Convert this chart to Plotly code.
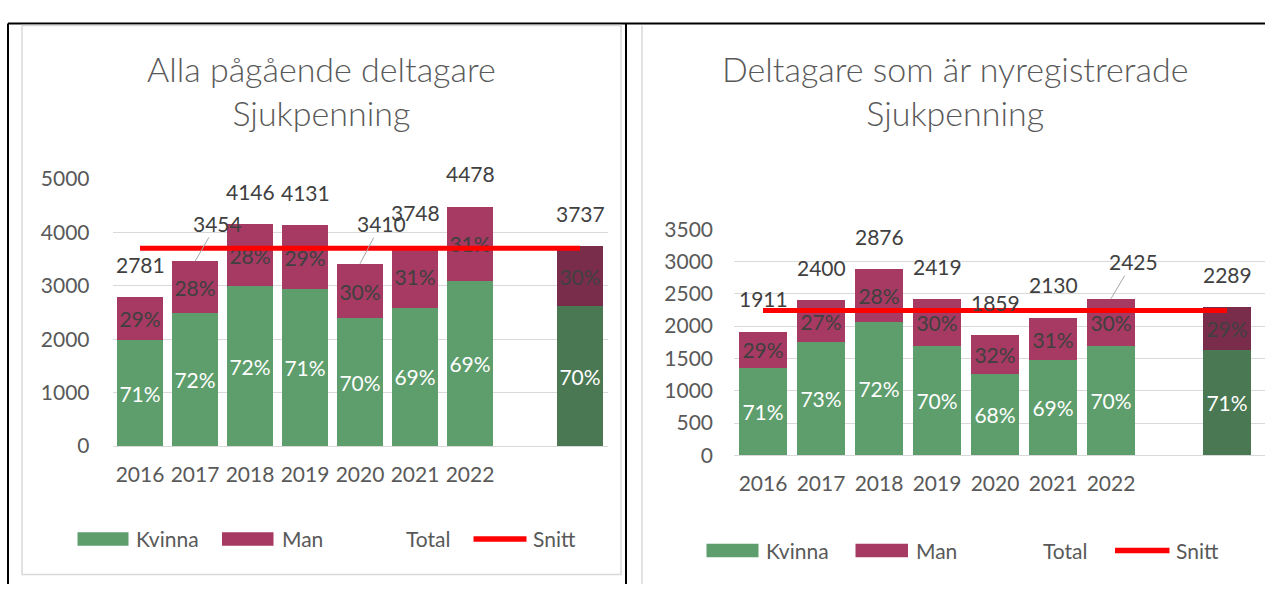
import plotly.graph_objects as go

W, H = 1265, 595

# ---------------- data ----------------
years = ["2016", "2017", "2018", "2019", "2020", "2021", "2022"]
gap_cat = " "
avg_cat = "Medel"
cats = years + [gap_cat, avg_cat]

# Left chart: Alla pågående deltagare
left_kvinna = [1975, 2487, 2985, 2933, 2387, 2586, 3090, None, 2616]
left_man = [806, 967, 1161, 1198, 1023, 1162, 1388, None, 1121]
left_total = [2781, 3454, 4146, 4131, 3410, 3748, 4478, None, 3737]
left_kv_pct = ["71%", "72%", "72%", "71%", "70%", "69%", "69%", "", "70%"]
left_man_pct = ["29%", "28%", "28%", "29%", "30%", "31%", "31%", "", "30%"]
left_snitt = 3700

# Right chart: Deltagare som är nyregistrerade
right_kvinna = [1357, 1752, 2071, 1693, 1264, 1470, 1698, None, 1625]
right_man = [554, 648, 805, 726, 595, 660, 727, None, 664]
right_total = [1911, 2400, 2876, 2419, 1859, 2130, 2425, None, 2289]
right_kv_pct = ["71%", "73%", "72%", "70%", "68%", "69%", "70%", "", "71%"]
right_man_pct = ["29%", "27%", "28%", "30%", "32%", "31%", "30%", "", "29%"]
right_snitt = 2240

left_title = "Alla pågående deltagare<br>Sjukpenning"
right_title = "Deltagare som är nyregistrerade<br>Sjukpenning"

# ---------------- style ----------------
FONT = "Lato"
TXT = "#595959"
LBL = "#404040"
GREEN, GREEN_D = "#5e9e6c", "#4a7852"
MAROON, MAROON_D = "#a63a62", "#7a2d4b"
GRID = "#d9d9d9"
FS = 21


def px(x):
    return x / W


def py(y):
    return 1 - y / H


def colors(base, dark):
    return [base] * 7 + [base, dark]


fig = go.Figure()

panels = [
    dict(xa="x", ya="y", kv=left_kvinna, man=left_man, tot=left_total,
         kvp=left_kv_pct, manp=left_man_pct, snitt=left_snitt,
         leaders={"2017": (22, -38), "2020": (21, -40)}),
    dict(xa="x2", ya="y2", kv=right_kvinna, man=right_man, tot=right_total,
         kvp=right_kv_pct, manp=right_man_pct, snitt=right_snitt,
         leaders={"2022": (22, -37)}),
]

annotations = []
for p in panels:
    fig.add_trace(go.Bar(
        x=cats, y=p["kv"], name="Kvinna", xaxis=p["xa"], yaxis=p["ya"],
        marker=dict(color=colors(GREEN, GREEN_D), line=dict(width=0)),
        text=p["kvp"], textposition="inside", insidetextanchor="middle",
        textangle=0, constraintext="none",
        textfont=dict(family=FONT, size=FS, color="white"),
        showlegend=False, hoverinfo="x+y"))
    fig.add_trace(go.Bar(
        x=cats, y=p["man"], name="Man", xaxis=p["xa"], yaxis=p["ya"],
        marker=dict(color=colors(MAROON, MAROON_D), line=dict(width=0)),
        text=p["manp"], textposition="inside", insidetextanchor="middle",
        textangle=0, constraintext="none",
        textfont=dict(family=FONT, size=FS, color=LBL),
        showlegend=False, hoverinfo="x+y"))
    fig.add_trace(go.Scatter(
        x=[cats[0], cats[-1]], y=[p["snitt"], p["snitt"]], mode="lines",
        name="Snitt", xaxis=p["xa"], yaxis=p["ya"],
        line=dict(color="#ff0000", width=5), showlegend=False))
    for i, (c, t) in enumerate(zip(cats, p["tot"])):
        if t is None:
            continue
        if c in p["leaders"]:
            ax, ay = p["leaders"][c]
            annotations.append(dict(
                x=i, y=t, xref=p["xa"], yref=p["ya"], text=str(t),
                showarrow=True, arrowhead=0, arrowwidth=1, arrowcolor="#a6a6a6",
                ax=ax, ay=ay, standoff=0,
                font=dict(family=FONT, size=FS, color=LBL)))
        else:
            annotations.append(dict(
                x=i, y=t, xref=p["xa"], yref=p["ya"], text=str(t),
                showarrow=False, yshift=33, yanchor="middle", xanchor="center",
                font=dict(family=FONT, size=FS, color=LBL)))

axis_font = dict(family=FONT, size=FS, color=TXT)
common_x = dict(type="category", categoryorder="array", categoryarray=cats,
                tickmode="array", tickvals=years, ticktext=years,
                showgrid=False, showline=False, zeroline=False, ticks="",
                tickfont=axis_font, ticklabelstandoff=14, fixedrange=True)
common_y = dict(showgrid=True, gridcolor=GRID, gridwidth=1, zeroline=True,
                zerolinecolor=GRID, zerolinewidth=1, showline=False, ticks="",
                tickfont=axis_font, fixedrange=True)

fig.update_layout(
    width=W, height=H, margin=dict(l=0, r=0, t=0, b=0),
    paper_bgcolor="white", plot_bgcolor="white",
    barmode="stack", bargap=0.18, showlegend=False,
    font=dict(family=FONT, color=TXT),
    xaxis=dict(domain=[px(112.5), px(607.5)], range=[-0.5, 8.5], anchor="y", **common_x),
    yaxis=dict(domain=[py(451), py(172)], range=[0, 5000], dtick=1000, anchor="x",
               ticklabelstandoff=22, **common_y),
    xaxis2=dict(domain=[px(734), px(1265)], range=[-0.5, 8.655], anchor="y2", **common_x),
    yaxis2=dict(domain=[py(460.7), py(224.6)], range=[0, 3500], dtick=500, anchor="x2",
                ticklabelstandoff=20, **common_y),
)

# titles
title_font = dict(family=FONT, size=34, color=TXT, weight=300)
annotations.append(dict(x=px(321), y=py(80), xref="paper", yref="paper", text=left_title,
                        showarrow=False, xanchor="center", yanchor="middle", font=title_font))
annotations.append(dict(x=px(955), y=py(80), xref="paper", yref="paper", text=right_title,
                        showarrow=False, xanchor="center", yanchor="middle", font=title_font))

shapes = []
# document table borders
shapes.append(dict(type="line", xref="paper", yref="paper", x0=px(8), x1=px(W), y0=py(10), y1=py(10),
                   line=dict(color="black", width=2)))
shapes.append(dict(type="line", xref="paper", yref="paper", x0=px(8), x1=px(8), y0=py(10), y1=py(H),
                   line=dict(color="black", width=2)))
shapes.append(dict(type="line", xref="paper", yref="paper", x0=px(626), x1=px(626), y0=py(10), y1=py(H),
                   line=dict(color="black", width=2)))
# chart frames
shapes.append(dict(type="rect", xref="paper", yref="paper", x0=px(22), x1=px(621), y0=py(12), y1=py(585),
                   line=dict(color=GRID, width=1.5)))
shapes.append(dict(type="line", xref="paper", yref="paper", x0=px(642), x1=px(642), y0=py(12), y1=py(H),
                   line=dict(color=GRID, width=1.5)))

# legends (manual, Excel style)
legend_specs = [
    dict(y=548, kv=(77.5, 128.5), kvt=134, man=(222, 273.5), mant=280, tot=404, sn=(473.5, 526.5), snt=530.5),
    dict(y=560, kv=(706.5, 758.5), kvt=764, man=(855.5, 908), mant=913.5, tot=1041, sn=(1115, 1169.5), snt=1173.5),
]
for L in legend_specs:
    yc = L["y"]
    shapes.append(dict(type="rect", xref="paper", yref="paper", x0=px(L["kv"][0]), x1=px(L["kv"][1]),
                       y0=py(yc + 7), y1=py(yc - 7), fillcolor=GREEN, line=dict(width=0)))
    shapes.append(dict(type="rect", xref="paper", yref="paper", x0=px(L["man"][0]), x1=px(L["man"][1]),
                       y0=py(yc + 7), y1=py(yc - 7), fillcolor=MAROON, line=dict(width=0)))
    shapes.append(dict(type="line", xref="paper", yref="paper", x0=px(L["sn"][0]), x1=px(L["sn"][1]),
                       y0=py(yc), y1=py(yc), line=dict(color="#ff0000", width=5.5)))
    for xt, t in [(L["kvt"], "Kvinna"), (L["mant"], "Man"), (L["tot"], "Total"), (L["snt"], "Snitt")]:
        annotations.append(dict(x=px(xt), y=py(yc), xref="paper", yref="paper", text=t,
                                showarrow=False, xanchor="left", yanchor="middle",
                                font=dict(family=FONT, size=FS, color=TXT)))

fig.update_layout(annotations=annotations, shapes=shapes)
fig.write_html("out.html")
